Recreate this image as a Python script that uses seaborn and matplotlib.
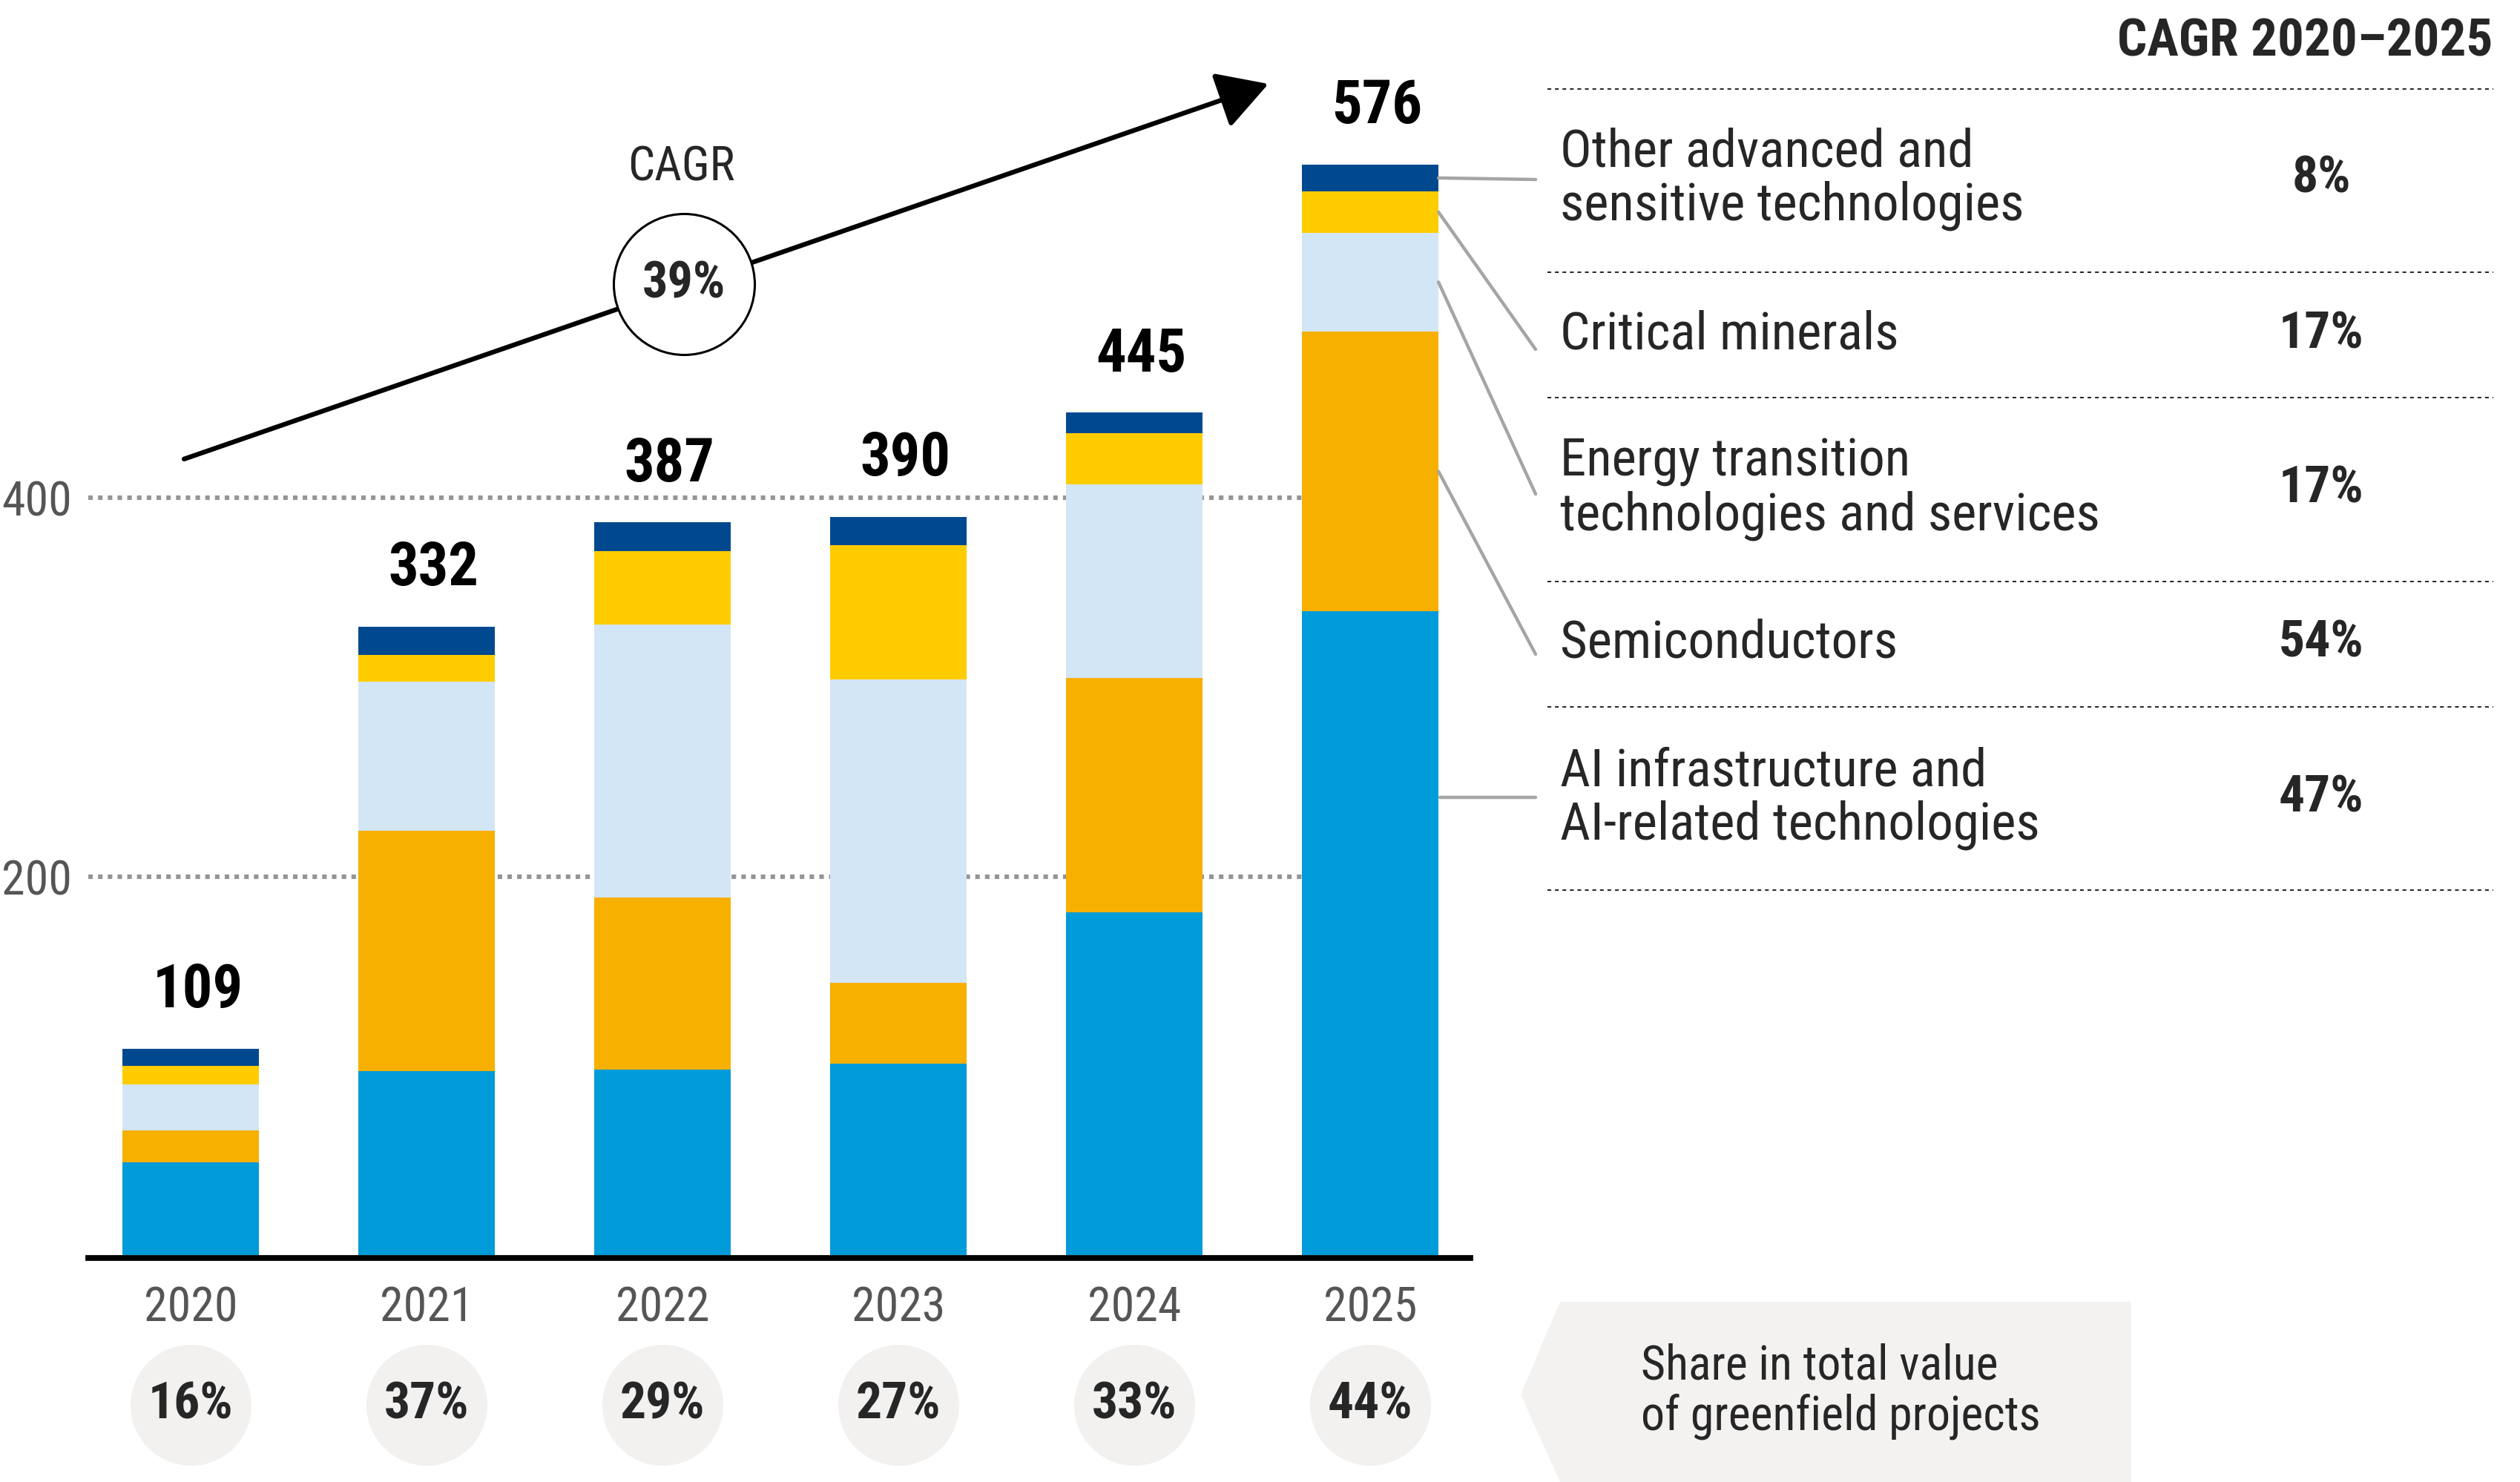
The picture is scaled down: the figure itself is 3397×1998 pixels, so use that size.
import numpy as np
import pandas as pd
import matplotlib
matplotlib.use("Agg")
import matplotlib.pyplot as plt
import seaborn as sns
from matplotlib import font_manager
from matplotlib.patches import Polygon, ConnectionPatch
from matplotlib.transforms import blended_transform_factory

# --- data (USD bn) ---
years = ["2020", "2021", "2022", "2023", "2024", "2025"]
ai_infra = [49, 97, 98, 101, 181, 340]
semiconductors = [17, 127, 91, 43, 124, 148]
energy_transition = [24, 79, 144, 160, 102, 52]
critical_minerals = [10, 14, 39, 71, 27, 22]
other_advanced = [9, 15, 15, 15, 11, 14]
totals = [109, 332, 387, 390, 445, 576]
share_labels = ["16%", "37%", "29%", "27%", "33%", "44%"]

# legend, listed top to bottom
legend_names = ["Other advanced and\nsensitive technologies", "Critical minerals",
                "Energy transition\ntechnologies and services", "Semiconductors",
                "AI infrastructure and\nAI-related technologies"]
legend_cagr = ["8%", "17%", "17%", "54%", "47%"]
overall_cagr = "39%"
grid_values = [200, 400]

colors = ["#009BD9", "#F7AF00", "#D3E6F6", "#FFCC00", "#00498F"]  # bottom -> top

# --- fonts ---
sns.set_style("white")
available = {f.name for f in font_manager.fontManager.ttflist}
font = "DejaVu Sans"
for cand in ["Liberation Sans Narrow", "Roboto Condensed", "Roboto", "Liberation Sans"]:
    if cand in available:
        font = cand
        break
plt.rcParams["font.family"] = [font, "DejaVu Sans"]

W, H, DPI = 3397, 1998, 200


def fx(px):
    return px / W


def fy(py):
    return 1 - py / H


fig = plt.figure(figsize=(W / DPI, H / DPI), dpi=DPI)
base_px, top_px = 1692, 33.2
ax = fig.add_axes([fx(119), fy(base_px), (1982 - 119) / W, (base_px - top_px) / H])

# stacked bars: draw cumulative sums from the top layer down
layers = np.array([ai_infra, semiconductors, energy_transition, critical_minerals, other_advanced])
cum = np.cumsum(layers, axis=0)
bar_w = 0.58
for k in range(len(layers) - 1, -1, -1):
    sns.barplot(x=years, y=cum[k], color=colors[k], width=bar_w, saturation=1,
                linewidth=0, ax=ax, zorder=2)

ax.set_xlim(-0.434, 5.425)
ax.set_ylim(0, 650)
ax.set_xlabel("")
ax.set_ylabel("")

# dotted gridlines, stopping at the last bar
ax.hlines(grid_values, -0.434, len(years) - 1 - bar_w / 2, colors="#959595",
          linewidth=2.2, linestyles=(0, (1.0, 1.15)), zorder=1)
ax.set_yticks(grid_values)
ax.set_yticklabels([str(v) for v in grid_values])
ax.tick_params(axis="y", length=0, pad=8, labelsize=23, labelcolor="#555555")
ax.tick_params(axis="x", length=0, pad=13, labelsize=23, labelcolor="#555555")

for s in ["top", "right", "left"]:
    ax.spines[s].set_visible(False)
ax.spines["bottom"].set_linewidth(2.8)
ax.spines["bottom"].set_color("black")
ax.spines["bottom"].set_position(("outward", 1.4))

# totals above bars
for i, t in enumerate(totals):
    ax.annotate(str(t), (i, t), xytext=(3.5, 20), textcoords="offset points",
                ha="center", va="baseline", fontsize=29, fontweight="bold", color="black")

# CAGR arrow with circle
ax.annotate("", xy=(4.569, 618.7), xytext=(-0.028, 420.5),
            arrowprops=dict(arrowstyle="-|>,head_length=2.1,head_width=1.2", mutation_scale=10,
                            lw=2.3, color="black", shrinkA=0, shrinkB=0),
            annotation_clip=False, zorder=5)
ax.scatter([2.091], [513], s=4680, facecolor="white", edgecolor="black", linewidth=1.1,
           zorder=6, clip_on=False)
ax.text(2.091, 513, overall_cagr, ha="center", va="center", fontsize=24.5,
        fontweight="bold", zorder=7)
ax.text(2.081, 574.5, "CAGR", ha="center", va="center", fontsize=23, zorder=7)

# share of greenfield value, grey circles below the years
trans = blended_transform_factory(ax.transData, fig.transFigure)
xs = np.arange(len(years))
ax.scatter(xs, [fy(1894)] * len(xs), s=3445, color="#F2F1F0", linewidth=0,
           transform=trans, clip_on=False, zorder=3)
for i, lab in enumerate(share_labels):
    ax.text(i, fy(1894), lab, transform=trans, ha="center", va="center",
            fontsize=25, fontweight="bold", zorder=4)

# share box with left-pointing tip
box = Polygon([(fx(2103), fy(1755)), (fx(2050), fy(1880)), (fx(2103), fy(1998)),
               (fx(2873), fy(1998)), (fx(2873), fy(1755))],
              closed=True, transform=fig.transFigure, facecolor="#F3F2F1", edgecolor="none")
fig.add_artist(box)
fig.text(fx(2212), fy(1876), "Share in total value\nof greenfield projects",
         ha="left", va="center", fontsize=23, linespacing=1.12)

# legend table on the right
fig.text(fx(3361), fy(56), "CAGR 2020\u20132025", ha="right", va="center",
         fontsize=25.5, fontweight="bold")
for ysep in [119.6, 366.8, 535.9, 783.9, 953, 1200]:
    fig.add_artist(plt.Line2D([fx(2086), fx(3361)], [fy(ysep), fy(ysep)], color="#222222",
                              linewidth=0.7, linestyle=(0, (2.6, 2.6)),
                              transform=fig.transFigure))
label_y = [241, 451, 659, 867, 1076]
for name, val, yy in zip(legend_names, legend_cagr, label_y):
    fig.text(fx(2103), fy(yy), name, ha="left", va="center", fontsize=25.5, linespacing=1.1)
    fig.text(fx(3129), fy(yy), val, ha="center", va="center", fontsize=25, fontweight="bold")

# leader lines from the 2025 bar to the legend rows
last = len(years) - 1
seg_mid = [(cum[4][last] + cum[3][last]) / 2, (cum[3][last] + cum[2][last]) / 2,
           (cum[2][last] + cum[1][last]) / 2, (cum[1][last] + cum[0][last]) / 2]
line_end_y = [242, 471, 666, 882, 1075]
for k, yend in enumerate(line_end_y):
    if k < 4:
        xyA = (last + bar_w / 2, seg_mid[k])
        coordsA = ax.transData
    else:
        xyA = (fx(1941), fy(1075))
        coordsA = fig.transFigure
    con = ConnectionPatch(xyA=xyA, coordsA=coordsA, xyB=(fx(2070), fy(yend)),
                          coordsB=fig.transFigure, color="#A5A5A5", linewidth=1.6)
    fig.add_artist(con)

fig.savefig("out.png", dpi=DPI)
